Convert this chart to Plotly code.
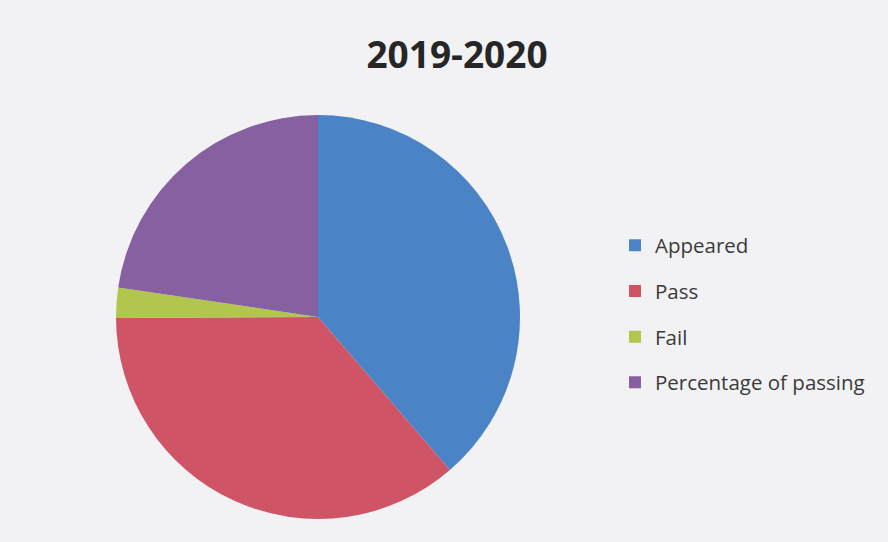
import plotly.graph_objects as go

categories = ["Appeared", "Pass", "Fail", "Percentage of passing"]
values = [160, 150, 10, 93.75]
colors = ["#4a84c6", "#cf5566", "#b2c64e", "#8760a2"]
title_text = "2019-2020"

fig = go.Figure()
fig.add_trace(go.Pie(
    labels=categories, values=values, sort=False, direction="clockwise",
    rotation=0, textinfo="none", hoverinfo="label+value",
    marker=dict(colors=colors, line=dict(width=0)),
    domain=dict(x=[(318 - 202) / 888, (318 + 202) / 888], y=[1 - 519 / 542, 1 - 115 / 542]),
    showlegend=False,
))
for i, (c, col) in enumerate(zip(categories, colors)):
    fig.add_trace(go.Scatter(
        x=[None], y=[None], mode="markers", name=c,
        marker=dict(symbol="square", size=12, color=col),
        legendgroup=f"g{i}", showlegend=True,
    ))

fig.update_layout(
    width=888, height=542,
    margin=dict(l=0, r=0, t=0, b=0),
    paper_bgcolor="#f2f2f5", plot_bgcolor="rgba(0,0,0,0)",
    xaxis=dict(visible=False), yaxis=dict(visible=False),
    title=dict(text="<b>" + title_text + "</b>", x=457 / 888, xanchor="center",
               y=1 - 55 / 542, yanchor="middle",
               font=dict(family="Open Sans", size=37, color="#262626")),
    legend=dict(x=615 / 888, xanchor="left", y=1 - 314 / 542, yanchor="middle",
                font=dict(family="Open Sans", size=20.5, color="#3a3a3a"),
                tracegroupgap=16, traceorder="grouped", bgcolor="rgba(0,0,0,0)"),
)
fig.write_html("out.html", config={"displayModeBar": False},
               post_script="document.body.style.margin='0';")
